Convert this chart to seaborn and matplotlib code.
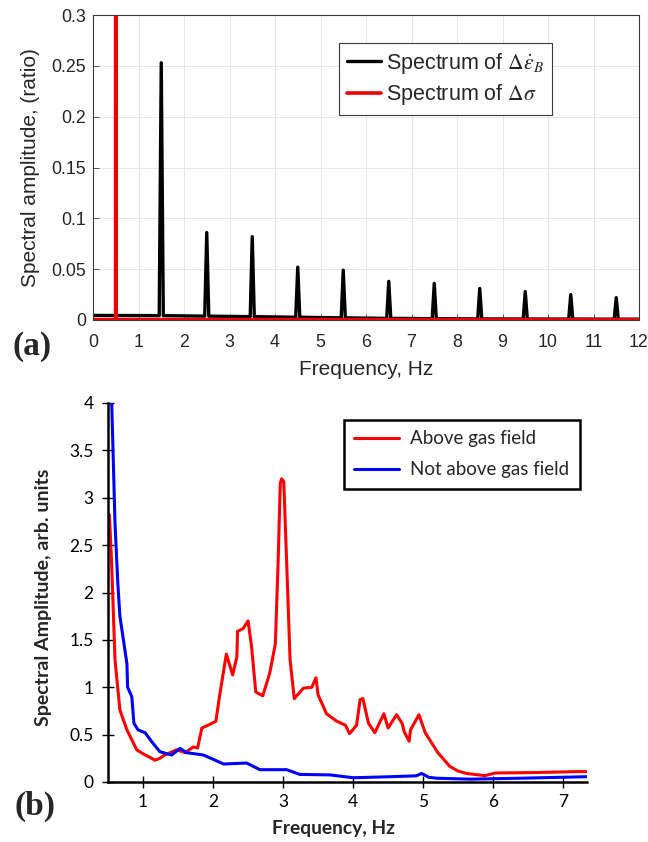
import numpy as np
import pandas as pd
import seaborn as sns
import matplotlib.pyplot as plt

## panel (a): harmonic spectra
strain_peak_freq = [1.5, 2.5, 3.5, 4.5, 5.5, 6.5, 7.5, 8.5, 9.5, 10.5, 11.5]
strain_peak_amp = [0.253, 0.086, 0.082, 0.052, 0.049, 0.038, 0.036, 0.031, 0.028, 0.025, 0.022]
strain_peak_base = [0.0043, 0.0038, 0.0033, 0.0027, 0.0021, 0.0016, 0.0013, 0.0011, 0.0010, 0.0009, 0.0008]
strain_end_freq = [0.0, 12.0]
strain_end_amp = [0.0045, 0.0008]

stress_peak_freq = [0.5]
stress_peak_amp = [0.6]          # runs off the top of the axis
stress_peak_base = [0.0004]
stress_end_freq = [0.0, 12.0]
stress_end_amp = [0.0004, 0.0004]

## panel (b): field spectra
gas_freq = [0.52, 0.55, 0.60, 0.67, 0.77, 0.91, 1.03, 1.10, 1.17, 1.24, 1.31, 1.48, 1.60, 1.72,
            1.78, 1.84, 1.93, 2.04, 2.10, 2.19, 2.28, 2.34, 2.35, 2.43, 2.50, 2.55, 2.61, 2.71,
            2.81, 2.89, 2.93, 2.96, 2.98, 3.01, 3.05, 3.10, 3.16, 3.29, 3.41, 3.47, 3.50, 3.62,
            3.77, 3.89, 3.95, 4.05, 4.10, 4.14, 4.22, 4.31, 4.44, 4.50, 4.62, 4.70, 4.73, 4.80,
            4.82, 4.94, 5.03, 5.21, 5.38, 5.50, 5.62, 5.88, 6.03, 6.62, 7.21, 7.36]
gas_amp = [2.82, 2.34, 1.29, 0.76, 0.55, 0.34, 0.285, 0.26, 0.23, 0.25, 0.285, 0.34, 0.31, 0.37,
           0.36, 0.57, 0.60, 0.64, 0.94, 1.35, 1.13, 1.32, 1.59, 1.62, 1.70, 1.43, 0.95, 0.91,
           1.15, 1.46, 2.34, 3.15, 3.20, 3.17, 2.34, 1.29, 0.88, 0.99, 1.00, 1.10, 0.92, 0.72,
           0.64, 0.60, 0.51, 0.60, 0.87, 0.88, 0.62, 0.52, 0.72, 0.57, 0.71, 0.62, 0.53, 0.43,
           0.55, 0.71, 0.52, 0.31, 0.165, 0.115, 0.09, 0.067, 0.095, 0.10, 0.11, 0.11]

nogas_freq = [0.53, 0.553, 0.60, 0.64, 0.67, 0.72, 0.77, 0.78, 0.84, 0.87, 0.93, 1.03, 1.12,
              1.24, 1.41, 1.53, 1.62, 1.86, 2.00, 2.15, 2.48, 2.67, 3.05, 3.24, 3.67, 4.00,
              4.50, 4.90, 4.98, 5.08, 5.19, 5.67, 6.39, 7.34]
nogas_amp = [4.6, 4.0, 2.73, 2.1, 1.75, 1.5, 1.25, 1.0, 0.90, 0.62, 0.55, 0.52, 0.43,
             0.32, 0.285, 0.355, 0.31, 0.285, 0.24, 0.19, 0.20, 0.13, 0.13, 0.08, 0.075, 0.045,
             0.055, 0.065, 0.09, 0.05, 0.04, 0.03, 0.04, 0.056]


def spike_series(end_f, end_a, pk_f, pk_a, pk_b, half_w):
    f = [end_f[0]]
    a = [end_a[0]]
    for pf, pa, pb in zip(pk_f, pk_a, pk_b):
        f += [pf - half_w, pf, pf + half_w]
        a += [pb, pa, pb]
    f.append(end_f[1])
    a.append(end_a[1])
    return pd.DataFrame({"freq": f, "amp": a})


strain_df = spike_series(strain_end_freq, strain_end_amp, strain_peak_freq,
                         strain_peak_amp, strain_peak_base, 0.045)
stress_df = spike_series(stress_end_freq, stress_end_amp, stress_peak_freq,
                         stress_peak_amp, stress_peak_base, 0.004)
gas_df = pd.DataFrame({"freq": gas_freq, "amp": gas_amp})
nogas_df = pd.DataFrame({"freq": nogas_freq, "amp": nogas_amp})

sns.set_style("ticks")
plt.rcParams["font.family"] = ["Liberation Sans", "DejaVu Sans"]
plt.rcParams["mathtext.fontset"] = "stix"

fig = plt.figure(figsize=(6.48, 8.42), dpi=100)

## ---- (a)
ax1 = fig.add_axes([93 / 648, 1 - 320 / 842, 546 / 648, 305 / 842])
sns.lineplot(data=strain_df, x="freq", y="amp", ax=ax1, color="black", lw=2.4,
             estimator=None, sort=False, label=r"Spectrum of $\Delta\dot{\epsilon}_B$")
sns.lineplot(data=stress_df, x="freq", y="amp", ax=ax1, color="#ee0000", lw=2.6,
             estimator=None, sort=False, label=r"Spectrum of $\Delta\sigma$")
ax1.set_xlim(0, 12)
ax1.set_ylim(0, 0.3)
ax1.set_xticks(np.arange(0, 13, 1))
ax1.set_yticks([0, 0.05, 0.1, 0.15, 0.2, 0.25, 0.3])
ax1.set_yticklabels(["0", "0.05", "0.1", "0.15", "0.2", "0.25", "0.3"])
ax1.grid(True, color="#e6e6e6", lw=0.7)
ax1.set_axisbelow(True)
for sp in ax1.spines.values():
    sp.set_visible(True)
    sp.set_color("#3a3a3a")
    sp.set_linewidth(0.8)
ax1.tick_params(direction="in", length=4, width=0.6, colors="#3a3a3a",
                labelcolor="#262626", labelsize=12.8)
ax1.tick_params(axis="x", pad=10)
ax1.tick_params(axis="y", pad=5)
ax1.set_xlabel("Frequency, Hz", fontsize=15, color="#262626")
ax1.set_ylabel("Spectral amplitude, (ratio)", fontsize=15, color="#262626")
ax1.xaxis.set_label_coords(0.5, -0.13)
ax1.yaxis.set_label_coords(-0.097, 0.5)
leg1 = ax1.legend(loc="upper right", bbox_to_anchor=(0.8407, 0.908), borderaxespad=0,
                  fontsize=15.5, handlelength=1.6, handletextpad=0.25, labelspacing=0.3,
                  borderpad=0.35, fancybox=False, framealpha=1)
leg1.get_frame().set_edgecolor("#3a3a3a")
leg1.get_frame().set_linewidth(0.8)
fig.text(32 / 648, 1 - 346 / 842, "(a)", family="Liberation Serif", weight="bold",
         fontsize=24, ha="center", va="center")

## ---- (b)
ax2 = fig.add_axes([108 / 648, 1 - 782 / 842, 479 / 648, 379 / 842])
sns.lineplot(data=gas_df, x="freq", y="amp", ax=ax2, color="#ff0000", lw=2.2,
             estimator=None, sort=False, label="Above gas field")
sns.lineplot(data=nogas_df, x="freq", y="amp", ax=ax2, color="#0000ff", lw=2.2,
             estimator=None, sort=False, label="Not above gas field")
ax2.set_xlim(0.5, 7.34)
ax2.set_ylim(0, 4)
ax2.set_xticks(np.arange(1, 8, 1))
ax2.set_yticks(np.arange(0, 4.01, 0.5))
ax2.set_yticklabels(["0", "0.5", "1", "1.5", "2", "2.5", "3", "3.5", "4"])
sns.despine(ax=ax2)
for sp in ["left", "bottom"]:
    ax2.spines[sp].set_color("black")
    ax2.spines[sp].set_linewidth(1.8)
ax2.tick_params(direction="inout", length=9, width=1.0, colors="black", labelsize=12.5)
ax2.tick_params(axis="x", pad=4)
ax2.tick_params(axis="y", pad=6)
for lab in ax2.get_xticklabels() + ax2.get_yticklabels():
    lab.set_fontfamily("Lato")
ax2.set_xlabel("Frequency, Hz", fontsize=13.8, family="Lato", weight="bold")
ax2.set_ylabel("Spectral Amplitude, arb. units", fontsize=14, family="Lato", weight="bold")
ax2.xaxis.set_label_coords(0.47, -0.1)
ax2.yaxis.set_label_coords(-0.117, 0.488)
leg2 = ax2.legend(loc="upper right", bbox_to_anchor=(0.985, 0.955), borderaxespad=0,
                  prop=dict(family="Lato", size=13.5), handlelength=2.4, handletextpad=0.6,
                  labelspacing=0.75, borderpad=0.55, fancybox=False, framealpha=1)
leg2.get_frame().set_edgecolor("black")
leg2.get_frame().set_linewidth(1.8)
fig.text(35 / 648, 1 - 806 / 842, "(b)", family="Liberation Serif", weight="bold",
         fontsize=24, ha="center", va="center")

fig.savefig("out.png", dpi=100)
